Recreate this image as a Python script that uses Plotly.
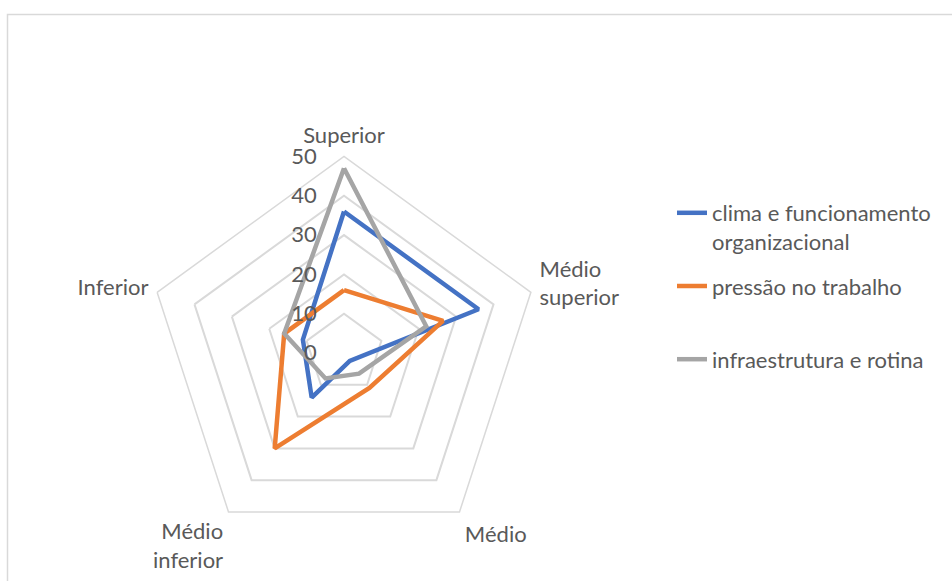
import plotly.graph_objects as go

# Radar categories (clockwise from the top)
categories = ["Superior", "Médio<br>superior", "Médio", "Médio<br>inferior", "Inferior"]

# Series values per category
clima = [36, 36, 2.5, 14, 11]
pressao = [16, 26.5, 11, 30, 16]
infra = [47, 22, 6.5, 8, 16]

series_names = [
    "clima e funcionamento<br>organizacional",
    "pressão no trabalho<br>&nbsp;",
    "infraestrutura e rotina<br>&nbsp;",
]
series_values = [clima, pressao, infra]
series_colors = ["#4472C4", "#ED7D31", "#A5A5A5"]

radial_ticks = [0, 10, 20, 30, 40, 50]

W, H = 952, 581
cx, cy, R = 344, 353, 196.5

fig = go.Figure()
for i, (name, vals, col) in enumerate(zip(series_names, series_values, series_colors)):
    fig.add_trace(go.Scatterpolar(
        r=vals + vals[:1],
        theta=categories + categories[:1],
        mode="lines",
        name=name,
        legendgroup=f"g{i}",
        line=dict(color=col, width=4.5),
    ))

font_family = "Lato, Carlito, Calibri, sans-serif"
text_color = "#595959"
grid_color = "#D9D9D9"
fs = 22

fig.update_layout(
    width=W, height=H,
    margin=dict(l=0, r=0, t=0, b=0),
    paper_bgcolor="white",
    plot_bgcolor="white",
    font=dict(family=font_family, color=text_color, size=fs),
    showlegend=True,
    legend=dict(
        x=672 / W, y=1 - 192 / H, xanchor="left", yanchor="top",
        font=dict(size=fs, color=text_color, family=font_family),
        tracegroupgap=13,
        valign="top",
        bgcolor="rgba(0,0,0,0)",
    ),
    polar=dict(
        domain=dict(x=[(cx - R) / W, (cx + R) / W], y=[1 - (cy + R) / H, 1 - (cy - R) / H]),
        bgcolor="white",
        gridshape="linear",
        radialaxis=dict(
            range=[0, 50],
            tickvals=radial_ticks,
            tickangle=90,
            ticks="outside", ticklen=19, tickcolor="rgba(0,0,0,0)",
            showline=False,
            gridcolor=grid_color, gridwidth=1.5,
            angle=90, side="counterclockwise",
            tickfont=dict(size=fs, color=text_color),
        ),
        angularaxis=dict(
            rotation=90, direction="clockwise",
            showgrid=False,
            showline=True, linecolor=grid_color, linewidth=1.5,
            ticks="outside", ticklen=4, tickcolor="rgba(0,0,0,0)",
            tickfont=dict(size=fs, color=text_color),
        ),
    ),
    shapes=[dict(
        type="rect", xref="paper", yref="paper",
        x0=7.5 / W, x1=1.02, y0=-0.05, y1=1 - 14.5 / H,
        line=dict(color="#D9D9D9", width=1.5), fillcolor="rgba(0,0,0,0)",
    )],
)

fig.write_html("out.html")
